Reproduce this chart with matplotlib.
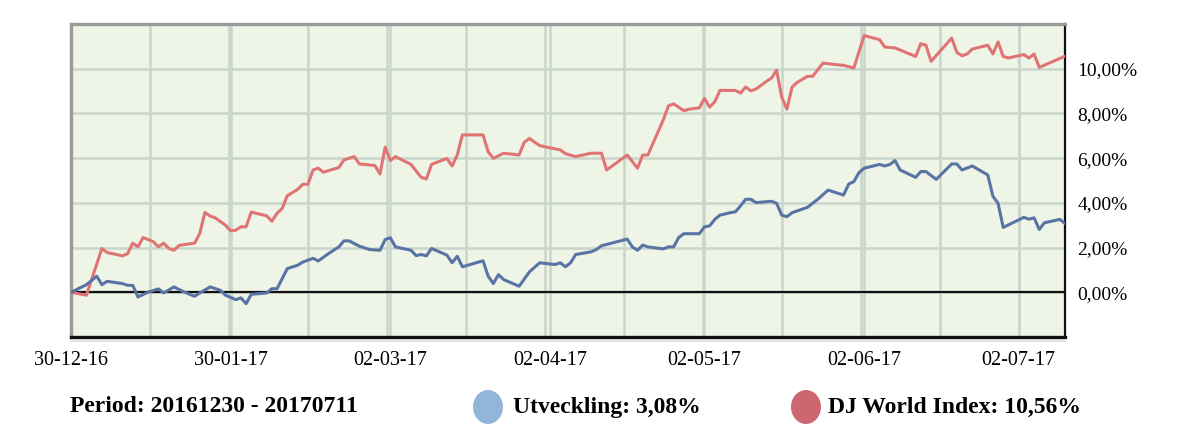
import matplotlib
matplotlib.use("Agg")
import matplotlib.pyplot as plt
import matplotlib.dates as mdates
from matplotlib.patches import Ellipse
import numpy as np
import pandas as pd

# ---------------- data ----------------
start_date = "2016-12-30"
end_date = "2017-07-11"

# days since 30-12-16 and value (%) for the fund ("Utveckling")
fund_days = [0, 3, 5, 6, 7, 10, 11, 12, 13, 15, 17, 18, 20, 22, 24, 25, 27, 29, 30,
             32, 33, 34, 35, 38, 39, 40, 42, 44, 45, 47, 48, 50, 52, 53, 54, 56, 58,
             60, 61, 62, 63, 66, 67, 68, 69, 70, 73, 74, 75, 76, 80, 81, 82, 83, 84,
             87, 89, 91, 94, 95, 96, 97, 98, 101, 102, 103, 108, 109, 110, 111, 112,
             115, 116, 117, 118, 119, 122, 123, 124, 125, 126, 128, 129, 130, 131,
             132, 133, 136, 137, 138, 139, 140, 143, 145, 147, 150, 151, 152, 153,
             154, 157, 158, 159, 160, 161, 164, 165, 166, 168, 171, 172, 173, 175,
             178, 179, 180, 181, 185, 186, 187, 188, 189, 192, 193]
fund_values = [0.00, 0.34, 0.72, 0.34, 0.49, 0.39, 0.31, 0.31, -0.21, 0.01, 0.15, -0.03,
               0.24, 0.01, -0.18, -0.03, 0.24, 0.09, -0.13, -0.33, -0.25, -0.51, -0.09,
               -0.03, 0.16, 0.16, 1.06, 1.21, 1.35, 1.52, 1.40, 1.73, 2.03, 2.30, 2.30,
               2.06, 1.91, 1.88, 2.36, 2.44, 2.03, 1.88, 1.64, 1.69, 1.63, 1.96, 1.66,
               1.32, 1.61, 1.14, 1.41, 0.72, 0.39, 0.79, 0.57, 0.27, 0.91, 1.32, 1.24,
               1.32, 1.14, 1.32, 1.69, 1.81, 1.91, 2.08, 2.38, 2.03, 1.88, 2.11, 2.03,
               1.94, 2.03, 2.03, 2.45, 2.62, 2.62, 2.93, 2.97, 3.26, 3.45, 3.56, 3.60,
               3.86, 4.16, 4.16, 4.01, 4.07, 3.98, 3.45, 3.38, 3.56, 3.80, 4.16, 4.57,
               4.35, 4.84, 4.95, 5.35, 5.55, 5.72, 5.65, 5.72, 5.89, 5.47, 5.14, 5.40,
               5.40, 5.05, 5.74, 5.74, 5.47, 5.65, 5.25, 4.30, 3.98, 2.90, 3.35, 3.27,
               3.33, 2.81, 3.11, 3.26, 3.08]

# days since 30-12-16 and value (%) for DJ World Index
index_days = [0, 3, 6, 7, 10, 11, 12, 13, 14, 16, 17, 18, 19, 20, 21, 24, 25, 26, 27,
              28, 30, 31, 32, 33, 34, 35, 36, 38, 39, 40, 41, 42, 44, 45, 46, 47, 48,
              49, 52, 53, 55, 56, 59, 60, 61, 62, 63, 66, 68, 69, 70, 72, 73, 74, 75,
              76, 80, 81, 82, 84, 87, 88, 89, 91, 93, 95, 96, 98, 101, 103, 104, 108,
              110, 111, 112, 115, 116, 117, 119, 120, 122, 123, 124, 125, 126, 129,
              130, 131, 132, 133, 135, 136, 137, 138, 139, 140, 141, 143, 144, 146,
              150, 152, 154, 157, 158, 160, 164, 165, 166, 167, 171, 172, 173, 174,
              175, 178, 179, 180, 181, 182, 185, 186, 187, 188, 193]
index_values = [0.00, -0.13, 1.96, 1.78, 1.63, 1.73, 2.20, 2.03, 2.45, 2.26, 2.03, 2.20,
                1.96, 1.88, 2.10, 2.20, 2.63, 3.57, 3.41, 3.33, 3.00, 2.75, 2.78, 2.93,
                2.93, 3.59, 3.53, 3.42, 3.18, 3.53, 3.75, 4.32, 4.60, 4.83, 4.83, 5.47,
                5.55, 5.37, 5.58, 5.92, 6.07, 5.74, 5.67, 5.29, 6.49, 5.89, 6.07, 5.72,
                5.14, 5.07, 5.72, 5.90, 5.98, 5.65, 6.14, 7.04, 7.04, 6.29, 5.99, 6.22,
                6.14, 6.71, 6.88, 6.56, 6.46, 6.37, 6.20, 6.07, 6.22, 6.22, 5.47, 6.14,
                5.55, 6.14, 6.14, 7.71, 8.34, 8.43, 8.12, 8.19, 8.25, 8.67, 8.28, 8.52,
                9.03, 9.03, 8.91, 9.18, 9.01, 9.09, 9.43, 9.58, 9.93, 8.73, 8.19, 9.18,
                9.39, 9.66, 9.66, 10.25, 10.15, 10.03, 11.48, 11.30, 10.97, 10.93, 10.55,
                11.12, 11.05, 10.33, 11.37, 10.73, 10.58, 10.66, 10.88, 11.05, 10.66,
                11.20, 10.55, 10.48, 10.63, 10.48, 10.66, 10.06, 10.56]

tick_labels = ["30-12-16", "30-01-17", "02-03-17", "02-04-17", "02-05-17", "02-06-17", "02-07-17"]
tick_dates = ["2016-12-30", "2017-01-30", "2017-03-02", "2017-04-02", "2017-05-02", "2017-06-02", "2017-07-02"]
y_ticks = [0, 2, 4, 6, 8, 10]
y_tick_labels = ["0,00%", "2,00%", "4,00%", "6,00%", "8,00%", "10,00%"]

period_text = "Period: 20161230 - 20170711"
fund_label = "Utveckling: 3,08%"
index_label = "DJ World Index: 10,56%"

# ---------------- styling ----------------
W, H = 1193, 434
bg = "#EEF5E7"
grid_c = "#C9D6CB"
red = "#E07474"
blue = "#5A73A5"
serif = ["Liberation Serif", "DejaVu Serif"]

start = pd.Timestamp(start_date)
end = pd.Timestamp(end_date)
fund_x = start + pd.to_timedelta(fund_days, unit="D")
index_x = start + pd.to_timedelta(index_days, unit="D")

fig = plt.figure(figsize=(W / 100, H / 100), dpi=100)
ax = fig.add_axes([71 / W, 1 - 337 / H, (1065 - 71) / W, (337 - 24) / H])
ax.set_facecolor(bg)

ax.set_xlim(mdates.date2num(start), mdates.date2num(end))
ax.set_ylim(-2, 12)

# horizontal grid
for g in range(-2, 13, 2):
    ax.axhline(g, color=grid_c, lw=1.8, zorder=1)
# vertical grid: regular spacing plus month-label lines
reg_days = np.linspace(0, 184, 13)
for d in reg_days[1:]:
    ax.axvline(mdates.date2num(start + pd.Timedelta(days=float(d))), color=grid_c, lw=1.8, zorder=1)
for td in tick_dates[1:]:
    ax.axvline(mdates.date2num(pd.Timestamp(td)), color=grid_c, lw=1.8, zorder=1)

ax.axhline(0, color="#111111", lw=1.6, zorder=2)

ax.plot(index_x, index_values, color=red, lw=2.2, zorder=3, solid_joinstyle="round")
ax.plot(fund_x, fund_values, color=blue, lw=2.2, zorder=3, solid_joinstyle="round")

# axes frame
for side in ["left", "top"]:
    ax.spines[side].set_color("#9A9A9A")
    ax.spines[side].set_linewidth(2.4)
ax.spines["bottom"].set_color("#111111")
ax.spines["bottom"].set_linewidth(2.4)
ax.spines["right"].set_color("#111111")
ax.spines["right"].set_linewidth(1.6)

# faint shadow line under the frame
fig.add_artist(plt.Line2D([71 / W, 1065 / W], [1 - 341 / H, 1 - 341 / H],
                          transform=fig.transFigure, color="#E2E2E2", lw=1.5))

ax.yaxis.tick_right()
ax.set_yticks(y_ticks)
ax.set_yticklabels(y_tick_labels, fontfamily=serif, fontsize=14)
ax.tick_params(axis="y", length=0, pad=9)

ax.set_xticks([mdates.date2num(pd.Timestamp(t)) for t in tick_dates])
ax.set_xticklabels(tick_labels, fontfamily=serif, fontsize=14.5)
ax.tick_params(axis="x", length=0, pad=10)

# bottom legend line
yl = 1 - 407 / H
fs_leg = 17
fig.text(70 / W, yl, period_text, fontfamily=serif, fontweight="bold", fontsize=fs_leg,
         ha="left", va="center")
fig.patches.append(Ellipse((488 / W, yl), 30 / W, 34 / H, transform=fig.transFigure,
                           facecolor="#93B5D9", edgecolor="none"))
fig.text(513 / W, yl, fund_label, fontfamily=serif, fontweight="bold", fontsize=fs_leg,
         ha="left", va="center")
fig.patches.append(Ellipse((806 / W, yl), 30 / W, 34 / H, transform=fig.transFigure,
                           facecolor="#CC6670", edgecolor="none"))
fig.text(828 / W, yl, index_label, fontfamily=serif, fontweight="bold", fontsize=fs_leg,
         ha="left", va="center")

fig.savefig("out.png", dpi=100, facecolor="white")
